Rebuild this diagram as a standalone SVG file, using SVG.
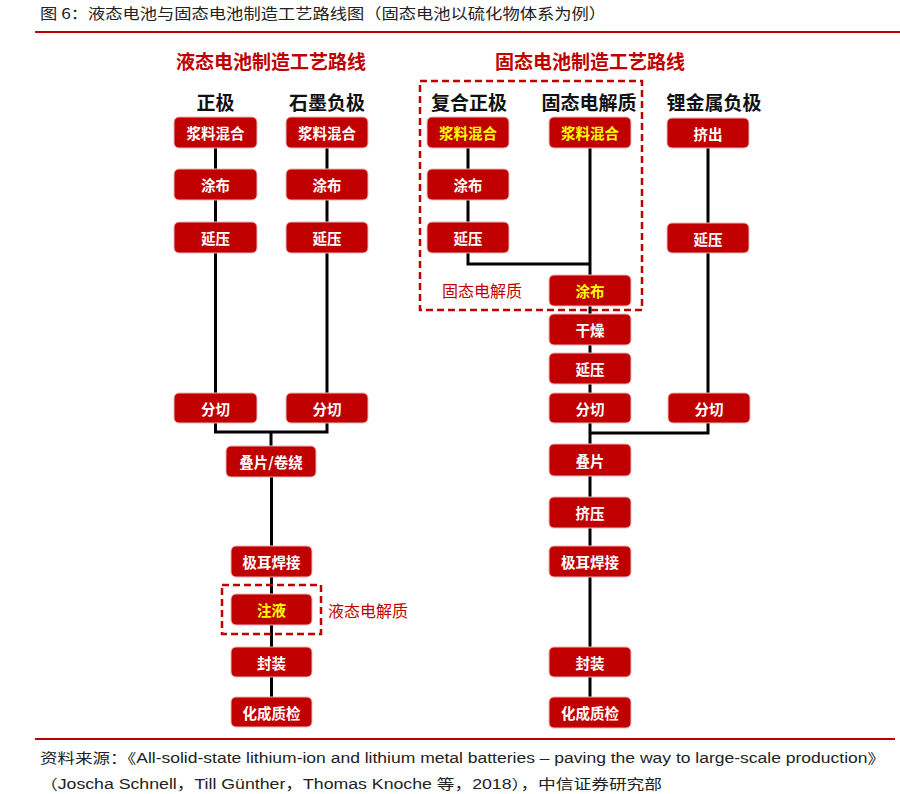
<svg xmlns="http://www.w3.org/2000/svg" width="900" height="794" viewBox="0 0 900 794">
<style>
text{font-family:"Noto Sans CJK SC","Liberation Sans",sans-serif;}
.title{font-size:15px;fill:#222;}
.foot{font-family:"Liberation Sans","Noto Sans CJK SC",sans-serif;font-size:14px;fill:#222;}
.sub{font-size:19px;font-weight:bold;fill:#C00000;text-anchor:middle;}
.hdr{font-size:19px;font-weight:bold;fill:#111;text-anchor:middle;}
.box rect{fill:#C00000;stroke:#F0B4B4;stroke-width:1;}
.box text{font-size:14.5px;font-weight:bold;fill:#fff;text-anchor:middle;dominant-baseline:central;}
.box.y text{fill:#FFFF00;}
.conn{fill:none;stroke:#000;stroke-width:3;}
.dash{fill:none;stroke:#C00000;stroke-width:2.5;stroke-dasharray:7 4;}
.lbl{font-size:16px;fill:#C00000;dominant-baseline:central;}
.rule{stroke:#C00000;stroke-width:2;}
</style>
<rect width="900" height="794" fill="#fff"/>
<text class="title" x="40" y="19" textLength="566" lengthAdjust="spacingAndGlyphs">图 6：液态电池与固态电池制造工艺路线图（固态电池以硫化物体系为例）</text>
<line class="rule" x1="35" y1="32" x2="900" y2="32"/>
<line class="rule" x1="35" y1="739" x2="895" y2="739"/>
<text class="foot" x="40" y="763" textLength="845" lengthAdjust="spacingAndGlyphs">资料来源：《All-solid-state lithium-ion and lithium metal batteries – paving the way to large-scale production》</text>
<text class="foot" x="40" y="789" textLength="622" lengthAdjust="spacingAndGlyphs">（Joscha Schnell，Till Günther，Thomas Knoche 等，2018），中信证券研究部</text>

<text class="sub" x="271" y="69">液态电池制造工艺路线</text>
<text class="sub" x="590" y="69">固态电池制造工艺路线</text>
<text class="hdr" x="215.5" y="110">正极</text>
<text class="hdr" x="327" y="110">石墨负极</text>
<text class="hdr" x="469" y="110">复合正极</text>
<text class="hdr" x="589" y="110">固态电解质</text>
<text class="hdr" x="714" y="110">锂金属负极</text>

<g id="connectors">
<path class="conn" d="M215.5 148 V432 H327 V148"/>
<path class="conn" d="M271 432 V446"/>
<path class="conn" d="M271.5 477 V697"/>
<path class="conn" d="M468 148 V264 H590"/>
<path class="conn" d="M590 148 V697"/>
<path class="conn" d="M708 148 V433 H590"/>
</g>

<rect class="dash" x="420" y="81" width="222" height="229"/>
<rect class="dash" x="222" y="585" width="99" height="49"/>
<text class="lbl" x="442" y="290">固态电解质</text>
<text class="lbl" x="328" y="610">液态电解质</text>

<g id="l1" class="box"><rect x="174" y="117" width="83" height="31" rx="5"/><text x="215.5" y="132.5">浆料混合</text></g>
<g id="l2" class="box"><rect x="174" y="169" width="83" height="31" rx="5"/><text x="215.5" y="184.5">涂布</text></g>
<g id="l3" class="box"><rect x="174" y="222" width="83" height="31" rx="5"/><text x="215.5" y="237.5">延压</text></g>
<g id="l4" class="box"><rect x="174" y="393" width="83" height="30" rx="5"/><text x="215.5" y="408">分切</text></g>
<g id="r1" class="box"><rect x="286" y="117" width="82" height="31" rx="5"/><text x="327" y="132.5">浆料混合</text></g>
<g id="r2" class="box"><rect x="286" y="169" width="82" height="31" rx="5"/><text x="327" y="184.5">涂布</text></g>
<g id="r3" class="box"><rect x="286" y="222" width="82" height="31" rx="5"/><text x="327" y="237.5">延压</text></g>
<g id="r4" class="box"><rect x="286" y="393" width="82" height="30" rx="5"/><text x="327" y="408">分切</text></g>
<g id="m1" class="box"><rect x="226" y="446" width="90" height="31" rx="5"/><text x="271" y="461.5">叠片/卷绕</text></g>
<g id="m2" class="box"><rect x="231" y="546" width="81" height="31" rx="5"/><text x="271.5" y="561.5">极耳焊接</text></g>
<g id="m3" class="box y"><rect x="231" y="594" width="81" height="31" rx="5"/><text x="271.5" y="609.5">注液</text></g>
<g id="m4" class="box"><rect x="231" y="647" width="81" height="30" rx="5"/><text x="271.5" y="662">封装</text></g>
<g id="m5" class="box"><rect x="231" y="697" width="81" height="30" rx="5"/><text x="271.5" y="712">化成质检</text></g>

<g id="c1" class="box y"><rect x="427" y="117" width="82" height="31" rx="5"/><text x="468" y="132.5">浆料混合</text></g>
<g id="c2" class="box"><rect x="427" y="169" width="82" height="31" rx="5"/><text x="468" y="184.5">涂布</text></g>
<g id="c3" class="box"><rect x="427" y="222" width="82" height="31" rx="5"/><text x="468" y="237.5">延压</text></g>
<g id="e1" class="box y"><rect x="549" y="117" width="82" height="31" rx="5"/><text x="590" y="132.5">浆料混合</text></g>
<g id="s1" class="box y"><rect x="549" y="275" width="82" height="31" rx="5"/><text x="590" y="290.5">涂布</text></g>
<g id="s2" class="box"><rect x="549" y="314" width="82" height="31" rx="5"/><text x="590" y="329.5">干燥</text></g>
<g id="s3" class="box"><rect x="549" y="353" width="82" height="31" rx="5"/><text x="590" y="368.5">延压</text></g>
<g id="s4" class="box"><rect x="549" y="393" width="82" height="30" rx="5"/><text x="590" y="408">分切</text></g>
<g id="s5" class="box"><rect x="549" y="444" width="82" height="32" rx="5"/><text x="590" y="460">叠片</text></g>
<g id="s6" class="box"><rect x="549" y="497" width="82" height="31" rx="5"/><text x="590" y="512.5">挤压</text></g>
<g id="s7" class="box"><rect x="549" y="546" width="82" height="31" rx="5"/><text x="590" y="561.5">极耳焊接</text></g>
<g id="s8" class="box"><rect x="549" y="647" width="82" height="30" rx="5"/><text x="590" y="662">封装</text></g>
<g id="s9" class="box"><rect x="549" y="697" width="82" height="31" rx="5"/><text x="590" y="712.5">化成质检</text></g>
<g id="a1" class="box"><rect x="667" y="118" width="82" height="30" rx="5"/><text x="708" y="133">挤出</text></g>
<g id="a2" class="box"><rect x="667" y="223" width="82" height="30" rx="5"/><text x="708" y="238">延压</text></g>
<g id="a3" class="box"><rect x="668" y="393" width="82" height="30" rx="5"/><text x="709" y="408">分切</text></g>
</svg>
